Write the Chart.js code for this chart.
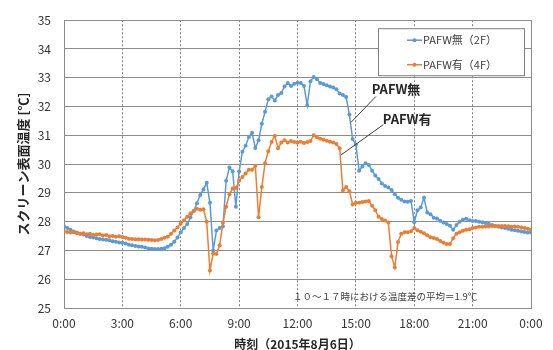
<!DOCTYPE html>
<html>
<head>
<meta charset="utf-8">
<script src="https://cdn.jsdelivr.net/npm/chart.js@4"></script>
<style>
  html, body { margin: 0; padding: 0; background: #fff; }
  #wrap { width: 553px; height: 350px; }
</style>
</head>
<body>
<div id="wrap"><canvas id="tempChart" width="553" height="350"></canvas></div>
<script>
// 10分間隔の測定値（0:00〜24:00）
const intervalMin = 10;
const xTickLabels = ['0:00', '3:00', '6:00', '9:00', '12:00', '15:00', '18:00', '21:00', '0:00'];
const seriesNames = ['PAFW無（2F）', 'PAFW有（4F）'];

// PAFW無（2F）
const pafwNashi = [
    27.84, 27.78, 27.72, 27.66, 27.62, 27.58, 27.55, 27.50, 27.47, 27.45, 27.42, 27.40,
    27.38, 27.37, 27.35, 27.32, 27.30, 27.28, 27.27, 27.24, 27.20, 27.18, 27.15, 27.14,
    27.13, 27.10, 27.07, 27.06, 27.05, 27.05, 27.06, 27.08, 27.13, 27.20, 27.30, 27.45,
    27.63, 27.78, 27.92, 28.15, 28.37, 28.64, 28.93, 29.12, 29.35, 28.66, 27.00, 27.69,
    27.78, 27.83, 29.42, 29.88, 29.75, 28.52, 29.74, 30.43, 30.64, 30.94, 31.09, 30.56,
    30.83, 31.40, 31.82, 32.25, 32.35, 32.21, 32.40, 32.47, 32.70, 32.82, 32.71, 32.79,
    32.83, 32.82, 32.71, 32.05, 32.88, 33.03, 32.95, 32.82, 32.78, 32.74, 32.70, 32.66,
    32.60, 32.45, 32.40, 32.33, 31.72, 30.87, 30.68, 29.77, 29.92, 30.03, 29.97, 29.77,
    29.60, 29.48, 29.33, 29.24, 29.19, 29.10, 28.95, 28.83, 28.76, 28.70, 28.69, 28.72,
    27.98, 28.40, 28.49, 28.83, 28.32, 28.26, 28.14, 28.11, 28.03, 27.97, 27.92, 27.86,
    27.72, 27.88, 28.00, 28.07, 28.10, 28.05, 28.02, 28.02, 28.00, 27.98, 27.95, 27.92,
    27.88, 27.85, 27.82, 27.80, 27.78, 27.75, 27.72, 27.70, 27.68, 27.66, 27.64, 27.62,
    27.62
];

// PAFW有（4F）
const pafwAri = [
    27.67, 27.64, 27.62, 27.63, 27.60, 27.58, 27.60, 27.56, 27.58, 27.54, 27.55, 27.56,
    27.52, 27.54, 27.49, 27.50, 27.48, 27.49, 27.47, 27.44, 27.41, 27.40, 27.39, 27.39,
    27.38, 27.38, 27.37, 27.36, 27.35, 27.36, 27.40, 27.44, 27.48, 27.58, 27.69, 27.80,
    27.94, 28.05, 28.17, 28.29, 28.37, 28.45, 28.41, 28.43, 28.00, 26.30, 26.90, 26.88,
    27.18, 27.95, 28.52, 28.95, 29.15, 29.17, 29.42, 29.55, 29.67, 29.80, 29.80, 29.94,
    28.15, 29.20, 30.03, 30.45, 30.77, 30.98, 30.55, 30.75, 30.83, 30.75, 30.80, 30.77,
    30.75, 30.78, 30.73, 30.77, 30.80, 31.00, 30.93, 30.88, 30.85, 30.81, 30.78, 30.75,
    30.70, 30.55, 29.08, 29.20, 29.06, 28.60, 28.66, 28.66, 28.68, 28.70, 28.72, 28.55,
    28.40, 28.17, 28.09, 28.04, 27.97, 26.80, 26.41, 27.29, 27.58, 27.63, 27.63, 27.67,
    27.78, 27.70, 27.65, 27.60, 27.53, 27.46, 27.43, 27.40, 27.33, 27.27, 27.22, 27.22,
    27.42, 27.58, 27.63, 27.68, 27.72, 27.74, 27.78, 27.80, 27.82, 27.82, 27.83, 27.83,
    27.85, 27.85, 27.85, 27.85, 27.85, 27.84, 27.82, 27.83, 27.82, 27.80, 27.78, 27.75,
    27.72
];

const hours = pafwNashi.map((_, i) => i * intervalMin / 60);
const toPoints = (vals) => vals.map((v, i) => ({ x: hours[i], y: v }));

const BLUE = '#5B9BD5';
const ORANGE = '#ED7D31';
const FONT = "'Noto Sans CJK JP', 'Noto Sans', sans-serif";

// 凡例・注記の描画
const decorations = {
    id: 'decorations',
    afterDraw(chart) {
        const { ctx, chartArea: area, scales: { x, y } } = chart;
        ctx.save();

        // 右枠線
        ctx.strokeStyle = '#8c8c8c';
        ctx.lineWidth = 1;
        ctx.beginPath();
        ctx.moveTo(Math.round(area.right) + 0.5, area.top);
        ctx.lineTo(Math.round(area.right) + 0.5, area.bottom);
        ctx.stroke();

        // 凡例
        const bx = area.right - 153, by = area.top + 8, bw = 146, bh = 47;
        ctx.fillStyle = '#fff';
        ctx.fillRect(bx, by, bw, bh);
        ctx.strokeStyle = '#7f7f7f';
        ctx.strokeRect(bx + 0.5, by + 0.5, bw, bh);
        [BLUE, ORANGE].forEach((c, i) => {
            const ly = by + 12 + i * 24.5;
            ctx.strokeStyle = c;
            ctx.lineWidth = 1.5;
            ctx.beginPath();
            ctx.moveTo(bx + 29, ly);
            ctx.lineTo(bx + 44, ly);
            ctx.stroke();
            ctx.fillStyle = c;
            ctx.beginPath();
            ctx.arc(bx + 36.5, ly, 2, 0, Math.PI * 2);
            ctx.fill();
            ctx.fillStyle = '#404040';
            ctx.font = '11px ' + FONT;
            ctx.textBaseline = 'middle';
            ctx.textAlign = 'left';
            ctx.fillText(seriesNames[i], bx + 45, ly);
        });

        // 引出線と系列名
        ctx.strokeStyle = '#404040';
        ctx.lineWidth = 1;
        const leader = (x1, y1, x2, y2) => {
            ctx.beginPath();
            ctx.moveTo(x.getPixelForValue(x1), y.getPixelForValue(y1));
            ctx.lineTo(x.getPixelForValue(x2), y.getPixelForValue(y2));
            ctx.stroke();
        };
        leader(16.03, 32.35, 14.75, 31.45);
        leader(16.41, 31.37, 14.24, 30.32);
        ctx.fillStyle = '#262626';
        ctx.font = 'bold 13px ' + FONT;
        ctx.textBaseline = 'middle';
        ctx.fillText('PAFW無', x.getPixelForValue(15.81), y.getPixelForValue(32.59));
        ctx.fillText('PAFW有', x.getPixelForValue(16.38), y.getPixelForValue(31.57));

        // 注記
        ctx.fillStyle = '#404040';
        ctx.font = '9.5px ' + FONT;
        ctx.fillText('１０～１７時における温度差の平均＝1.9℃', x.getPixelForValue(11.77), y.getPixelForValue(25.42));
        ctx.restore();
    }
};

const createTempChart = () => {
    const ctx = document.getElementById('tempChart').getContext('2d');
    Chart.defaults.font.family = FONT;
    Chart.defaults.color = '#404040';
    new Chart(ctx, {
        type: 'line',
        data: {
            datasets: [{
                label: seriesNames[0],
                data: toPoints(pafwNashi),
                borderColor: BLUE,
                backgroundColor: BLUE,
                borderWidth: 1.5,
                pointRadius: 2,
                pointBorderWidth: 0,
                tension: 0,
                order: 2
            }, {
                label: seriesNames[1],
                data: toPoints(pafwAri),
                borderColor: ORANGE,
                backgroundColor: ORANGE,
                borderWidth: 1.5,
                pointRadius: 2,
                pointBorderWidth: 0,
                tension: 0,
                order: 1
            }]
        },
        options: {
            responsive: false,
            animation: false,
            devicePixelRatio: 1,
            layout: { padding: { top: 17, right: 22, left: 0, bottom: 0 } },
            plugins: {
                legend: { display: false },
                tooltip: { enabled: false }
            },
            scales: {
                x: {
                    type: 'linear',
                    min: 0,
                    max: 24,
                    afterFit: (s) => { s.height = 42; },
                    ticks: {
                        stepSize: 3,
                        padding: 8,
                        font: { size: 12 },
                        color: '#333',
                        callback: (v) => xTickLabels[v / 3]
                    },
                    grid: {
                        drawTicks: false,
                        color: (c) => (c.tick && (c.tick.value === 0 || c.tick.value === 24)) ? 'rgba(0,0,0,0)' : '#808080',
                        lineWidth: 1
                    },
                    border: { color: '#8c8c8c', width: 1, dash: [2, 2] },
                    title: {
                        display: true,
                        text: '時刻（2015年8月6日）',
                        font: { size: 12, weight: 'bold', lineHeight: 1 },
                        color: '#262626',
                        padding: { top: 0, bottom: 0 }
                    }
                },
                y: {
                    min: 25,
                    max: 35,
                    afterFit: (s) => { s.width = 64; },
                    ticks: {
                        stepSize: 1,
                        padding: 13,
                        font: { size: 12 },
                        color: '#333'
                    },
                    grid: {
                        drawTicks: false,
                        color: '#8c8c8c',
                        lineWidth: 1
                    },
                    border: { color: '#8c8c8c', width: 1 },
                    title: {
                        display: true,
                        text: 'スクリーン表面温度 [℃]',
                        font: { size: 13, weight: 'bold' },
                        color: '#262626',
                        padding: { top: 15, bottom: 0 }
                    }
                }
            }
        },
        plugins: [decorations]
    });
};

document.addEventListener('DOMContentLoaded', createTempChart);
</script>
</body>
</html>
